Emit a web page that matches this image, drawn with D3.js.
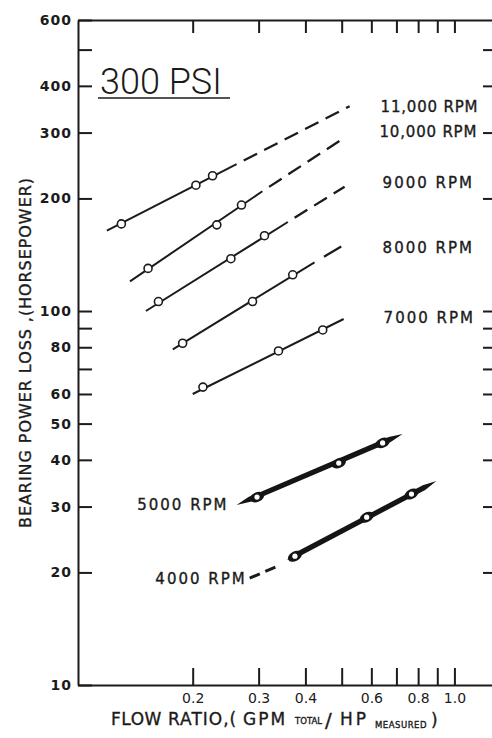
<!doctype html>
<html lang="en">
<head>
<meta charset="utf-8">
<title>Bearing power loss vs flow ratio</title>
<script src="https://d3js.org/d3.v7.min.js"></script>
<style>
body { margin: 0; background: #fff; }
text { font-family: "DejaVu Sans", sans-serif; fill: #1b1b1b; }
.axis path, .axis line { stroke: #1b1b1b; stroke-width: 2; }
.axis text { font-size: 14px; }
.lbl { stroke: #1b1b1b; stroke-width: 0.35px; }
</style>
</head>
<body>
<svg width="492" height="738"></svg>
<script>
// speeds, marked test points, and the ends of each fitted line (flow ratio, hp)
var rpm = ["11,000 RPM", "10,000 RPM", "9000 RPM", "8000 RPM", "7000 RPM", "5000 RPM", "4000 RPM"];
var pointFlow = [[0.129, 0.204, 0.226], [0.152, 0.232, 0.270], [0.162, 0.253, 0.311],
                 [0.188, 0.289, 0.370], [0.213, 0.339, 0.445], [0.297, 0.491, 0.643], [0.375, 0.583, 0.768]];
var pointLoss = [[171, 217, 230], [130, 170, 192], [106, 138, 159],
                 [82, 106, 125], [62.6, 78.2, 89], [31.8, 39.2, 44.4], [22.1, 28.1, 32.4]];
var lineFromFlow = [0.118, 0.136, 0.150, 0.177, 0.200, 0.262, 0.357];
var lineFromLoss = [164, 120, 100, 79, 60, 30.3, 21.6];
var lineToFlow = [0.262, 0.307, 0.359, 0.423, 0.506, 0.727, 0.895];
var lineToLoss = [247, 209, 173, 135, 95.2, 46.9, 35.1];
var dashToFlow = [0.525, 0.512, 0.509, 0.500, null, null, null];
var dashToLoss = [353, 292, 215, 149, null, null, null];
var dashPattern = ["15 8", "15 8", "15 8", "20 11", null, null, null];
var heavy = [false, false, false, false, false, true, true];
// dashed lead-in for 4000 rpm
var leadFlow = [0.284, 0.341];
var leadLoss = [19.3, 20.9];

// label anchors (flow, hp)
var labelFlow = [0.635, 0.631, 0.643, 0.643, 0.647, 0.254, 0.284];
var labelLoss = [353, 301, 221, 148, 96, 30.3, 19.2];

var flowTicks = [0.2, 0.3, 0.4, 0.5, 0.6, 0.7, 0.8, 0.9, 1.0];
var flowTickLabels = ["0.2", "0.3", "0.4", "", "0.6", "", "0.8", "", "1.0"];
var lossTicks = [600, 500, 400, 300, 200, 100, 90, 80, 70, 60, 50, 40, 30, 20, 10];
var lossTickLabels = ["600", "", "400", "300", "200", "100", "", "80", "", "60", "50", "40", "30", "20", "10"];

var svg = d3.select('svg');

var x = d3.scaleLog().domain([0.0988, 1.26]).range([78, 492]);
var y = d3.scaleLog().domain([10, 600]).range([685, 20]);

// axes
svg.append('g').attr('class', 'axis')
  .attr('transform', 'translate(0,685)')
  .call(d3.axisBottom(x).tickValues(flowTicks).tickSize(-17).tickSizeOuter(0).tickPadding(8)
    .tickFormat(function(d, i){ return flowTickLabels[i]; }));

svg.append('g').attr('class', 'axis')
  .attr('transform', 'translate(0,20)')
  .call(d3.axisTop(x).tickValues(flowTicks).tickSize(-13).tickSizeOuter(0).tickFormat(''));

svg.append('g').attr('class', 'axis')
  .attr('transform', 'translate(78,0)')
  .call(d3.axisLeft(y).tickValues(lossTicks).tickSize(-14).tickSizeOuter(0).tickPadding(6)
    .tickFormat(function(d, i){ return lossTickLabels[i]; }))
  .selectAll('text').style('font-weight', 'bold').style('letter-spacing', '1px');

var right = svg.append('g').attr('class', 'axis')
  .attr('transform', 'translate(492,0)')
  .call(d3.axisRight(y).tickValues(lossTicks.slice(1, -1)).tickSize(-9).tickFormat(''));
right.select('.domain').remove();

svg.selectAll('.axis .tick text').attr('fill', '#1b1b1b');

// lines
var line = d3.line().x(function(d){ return x(d[0]); }).y(function(d){ return y(d[1]); });

function spindle(f0, l0, f1, l1, w, a) {
  var p0 = [x(f0), y(l0)], p1 = [x(f1), y(l1)];
  var dx = p1[0] - p0[0], dy = p1[1] - p0[1], L = Math.hypot(dx, dy);
  var ux = dx / L, uy = dy / L, nx = -uy, ny = ux;
  return [p0,
    [p0[0] + ux * a + nx * w, p0[1] + uy * a + ny * w],
    [p1[0] - ux * a + nx * w, p1[1] - uy * a + ny * w],
    p1,
    [p1[0] - ux * a - nx * w, p1[1] - uy * a - ny * w],
    [p0[0] + ux * a - nx * w, p0[1] + uy * a - ny * w]];
}

rpm.forEach(function(name, i){
  if (heavy[i]) {
    var pts = spindle(lineFromFlow[i], lineFromLoss[i], lineToFlow[i], lineToLoss[i], 2.6, 14);
    svg.append('path')
      .attr('d', 'M' + pts.map(function(p){ return p.join(','); }).join('L') + 'Z')
      .attr('fill', '#151515');
    var ang = Math.atan2(y(lineToLoss[i]) - y(lineFromLoss[i]), x(lineToFlow[i]) - x(lineFromFlow[i])) * 180 / Math.PI;
    pointFlow[i].forEach(function(f, j){
      var cx = x(f), cy = y(pointLoss[i][j]);
      svg.append('ellipse')
        .attr('transform', 'translate(' + cx + ',' + cy + ') rotate(' + ang + ')')
        .attr('rx', 7.5).attr('ry', 4.8).attr('fill', '#151515');
      svg.append('circle').attr('cx', cx).attr('cy', cy).attr('r', 2.6).attr('fill', '#fff');
    });
  } else {
    svg.append('path')
      .attr('d', line([[lineFromFlow[i], lineFromLoss[i]], [lineToFlow[i], lineToLoss[i]]]))
      .attr('stroke', '#1b1b1b').attr('stroke-width', 2).attr('fill', 'none');
    if (dashToFlow[i] !== null) {
      svg.append('path')
        .attr('d', line([[lineToFlow[i], lineToLoss[i]], [dashToFlow[i], dashToLoss[i]]]))
        .attr('stroke', '#1b1b1b').attr('stroke-width', 2.3).attr('fill', 'none')
        .attr('stroke-dasharray', dashPattern[i])
        .attr('stroke-dashoffset', parseFloat(dashPattern[i]));
    }
    pointFlow[i].forEach(function(f, j){
      svg.append('circle')
        .attr('cx', x(f)).attr('cy', y(pointLoss[i][j])).attr('r', 4)
        .attr('fill', '#fff').attr('stroke', '#1b1b1b').attr('stroke-width', 1.6);
    });
  }
});

svg.append('path')
  .attr('d', line([[leadFlow[0], leadLoss[0]], [leadFlow[1], leadLoss[1]]]))
  .attr('stroke', '#1b1b1b').attr('stroke-width', 3).attr('fill', 'none')
  .attr('stroke-dasharray', '11 6');

// speed labels
rpm.forEach(function(name, i){
  svg.append('text')
    .attr('class', 'lbl')
    .attr('x', x(labelFlow[i]) + (i >= 5 ? -3 : 0))
    .attr('y', y(labelLoss[i]))
    .attr('dy', '0.36em')
    .attr('text-anchor', i >= 5 ? 'end' : 'start')
    .style('font-size', '15px')
    .style('letter-spacing', i < 2 ? '0.8px' : '2px')
    .text(name);
});

// pressure label
svg.append('text')
  .attr('x', 100).attr('y', 94)
  .style('font-family', 'Roboto, sans-serif')
  .style('font-weight', 300)
  .style('font-size', '36px')
  .text('300 PSI');
svg.append('line')
  .attr('x1', 98).attr('x2', 230).attr('y1', 98).attr('y2', 98)
  .attr('stroke', '#1b1b1b').attr('stroke-width', 1.6);

// axis titles
svg.append('text')
  .attr('class', 'lbl')
  .attr('transform', 'translate(31,353) rotate(-90)')
  .attr('text-anchor', 'middle')
  .attr('textLength', 350)
  .attr('lengthAdjust', 'spacing')
  .style('font-size', '16px')
  .text('BEARING  POWER  LOSS ,(HORSEPOWER)');

var xt = svg.append('text').attr('class', 'lbl').attr('y', 725).style('font-size', '17px');
xt.append('tspan').attr('x', 111).style('letter-spacing', '0.5px').text('FLOW');
xt.append('tspan').attr('x', 168).style('letter-spacing', '1px').text('RATIO,(');
xt.append('tspan').attr('x', 243).style('letter-spacing', '2px').text('GPM');
xt.append('tspan').attr('x', 295).attr('y', 724).style('font-size', '8.5px').text('TOTAL');
xt.append('tspan').attr('x', 325).attr('y', 727).style('font-size', '20px').text('/');
xt.append('tspan').attr('x', 340).attr('y', 725).style('letter-spacing', '3px').text('HP');
xt.append('tspan').attr('x', 375).attr('y', 728).style('font-size', '8.5px').style('letter-spacing', '0.5px').text('MEASURED');
xt.append('tspan').attr('x', 431).attr('y', 726).text(')');
</script>
</body>
</html>
